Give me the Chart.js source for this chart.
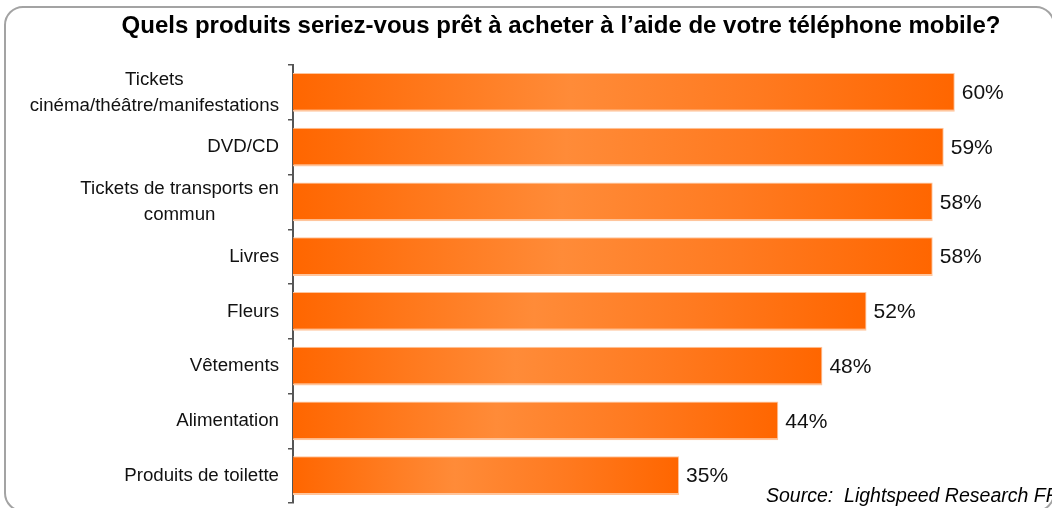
<!DOCTYPE html>
<html lang="fr">
<head>
<meta charset="utf-8">
<title>Produits achetés par téléphone mobile</title>
<script src="https://cdn.jsdelivr.net/npm/chart.js@4.4.1/dist/chart.umd.min.js"></script>
<style>
  html,body{margin:0;padding:0;background:#fff;}
  #wrap{position:relative;width:1052px;height:508px;}
</style>
</head>
<body>
<div id="wrap"><canvas id="chart" width="1052" height="508"></canvas></div>
<script>
/* ── Data ── */
const categories=[
  ['Tickets','cinéma/théâtre/manifestations'],
  'DVD/CD',
  ['Tickets de transports en','commun'],
  'Livres',
  'Fleurs',
  'Vêtements',
  'Alimentation',
  'Produits de toilette'
];
const shares=[60,59,58,58,52,48,44,35];
const titleText='Quels produits seriez-vous prêt à acheter à l’aide de votre téléphone mobile?';
const sourceText='Source:  Lightspeed Research FR';

const FONT='"Liberation Sans", Arial, Helvetica, sans-serif';

/* ── Bar gradient: dark edges, light middle ── */
function barFill(ctx){
  const chart=ctx.chart;
  if(!chart.chartArea)return '#ff6600';
  const x=chart.scales.x;
  const x0=x.getPixelForValue(0), x1=x.getPixelForValue(ctx.raw);
  const g=chart.ctx.createLinearGradient(x0,0,x1,0);
  g.addColorStop(0,'#ff6600');
  g.addColorStop(0.42,'#ff8b38');
  g.addColorStop(0.7,'#ff7a20');
  g.addColorStop(1,'#ff6600');
  return g;
}

/* ── Frame, title, source ── */
const framePlugin={
  id:'frame',
  beforeDraw(chart){
    const c=chart.ctx;
    c.save();
    c.strokeStyle='#a3a3a3';
    c.lineWidth=2;
    c.beginPath();
    c.roundRect(5,7,1049,504,18);
    c.stroke();
    c.restore();
  },
  afterDraw(chart){
    const c=chart.ctx;
    c.save();
    c.fillStyle='#000';
    c.font='bold 24px '+FONT;
    c.textAlign='center';
    c.textBaseline='alphabetic';
    c.fillText(titleText,561,33);
    c.font='italic 19.5px '+FONT;
    c.textAlign='left';
    c.fillText(sourceText,766,502);
    c.restore();
  }
};

/* ── Category labels: wrapped lines centred, block right-aligned ── */
const labelPlugin={
  id:'catLabels',
  afterDraw(chart){
    const y=chart.scales.y, c=chart.ctx;
    const right=y.right-14, lh=26;
    c.save();
    c.font='18.7px '+FONT;
    c.fillStyle='#111';
    c.textAlign='center';
    c.textBaseline='middle';
    y.ticks.forEach((t,i)=>{
      const lines=[].concat(categories[i]);
      const w=Math.max(...lines.map(s=>c.measureText(s).width));
      const cx=right-w/2, cy=y.getPixelForTick(i);
      lines.forEach((s,j)=>c.fillText(s,cx,cy+(j-(lines.length-1)/2)*lh));
    });
    c.restore();
  }
};

/* ── Value labels at bar ends ── */
const valuePlugin={
  id:'values',
  afterDatasetsDraw(chart){
    const c=chart.ctx, meta=chart.getDatasetMeta(0);
    c.save();
    c.font='21px '+FONT;
    c.fillStyle='#111';
    c.textAlign='left';
    c.textBaseline='middle';
    meta.data.forEach((bar,i)=>c.fillText(shares[i]+'%',bar.x+7,bar.y+1));
    c.restore();
  }
};

new Chart(document.getElementById('chart'),{
  type:'bar',
  data:{
    labels:categories,
    datasets:[{
      data:shares,
      backgroundColor:barFill,
      borderColor:'#ffc59c',
      borderWidth:{top:1,right:1,bottom:2,left:0},
      borderSkipped:false,
      barPercentage:0.71,
      categoryPercentage:1
    }]
  },
  options:{
    indexAxis:'y',
    responsive:false,
    animation:false,
    layout:{padding:{top:65,right:9,bottom:5,left:0}},
    plugins:{legend:{display:false},tooltip:{enabled:false}},
    scales:{
      x:{display:false,min:0,max:68},
      y:{
        afterFit(s){s.width=293;},
        border:{display:true,color:'#555',width:2},
        grid:{display:true,drawOnChartArea:false,drawTicks:true,tickLength:5,color:'#555',lineWidth:1.5},
        ticks:{display:false}
      }
    }
  },
  plugins:[framePlugin,labelPlugin,valuePlugin]
});
</script>
</body>
</html>
